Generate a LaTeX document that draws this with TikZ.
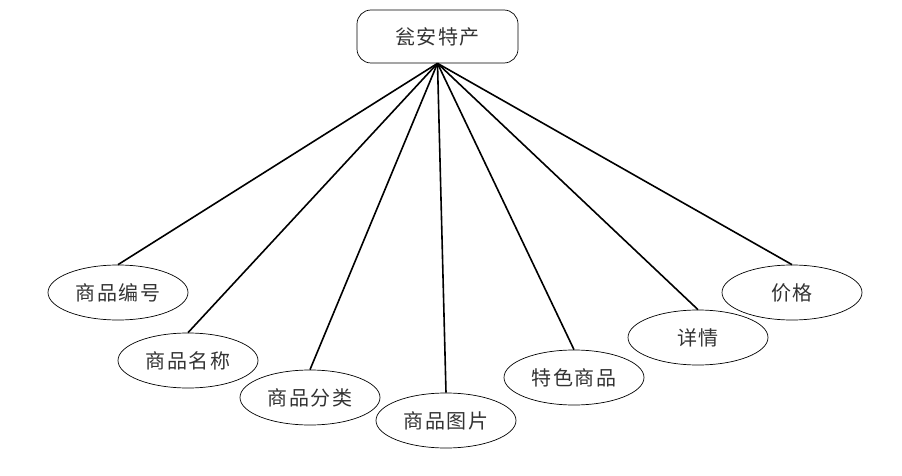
\documentclass[tikz,border=0pt]{standalone}
\usepackage{fontspec}
\newfontfamily\cjk[LetterSpace=8]{Noto Sans CJK SC}
\usetikzlibrary{shapes.geometric, positioning}

\begin{document}
\begin{tikzpicture}[x=1pt, y=-1pt,
    attr/.style={draw=black, line width=0.7pt, ellipse, minimum width=140pt, minimum height=55pt,
        inner sep=0pt, text=black!80, font=\cjk\fontsize{20}{20}\selectfont},
    entity/.style={draw=black, line width=0.7pt, rounded corners=14pt, minimum width=161pt,
        minimum height=53pt, inner sep=0pt, text=black!80, font=\cjk\fontsize{20}{20}\selectfont},
    link/.style={line width=1.6pt}]
    \useasboundingbox (0,0) rectangle (902,476);

    % Entity
    \node[entity] (tc) at (437.5,36.5) {瓮安特产};

    % Attributes
    \node[attr] (bh) at (118,292.5) {商品编号};
    \node[attr] (mc) at (188,360.5) {商品名称};
    \node[attr] (fl) at (310,397.5) {商品分类};
    \node[attr] (tp) at (446,420.5) {商品图片};
    \node[attr] (ts) at (574,377.5) {特色商品};
    \node[attr] (xq) at (698,337.5) {详情};
    \node[attr] (jg) at (792,292.5) {价格};

    % Links
    \foreach \a in {bh,mc,fl,tp,ts,xq,jg} {
        \draw[link] (tc.south) -- (\a.north);
    }
\end{tikzpicture}
\end{document}
